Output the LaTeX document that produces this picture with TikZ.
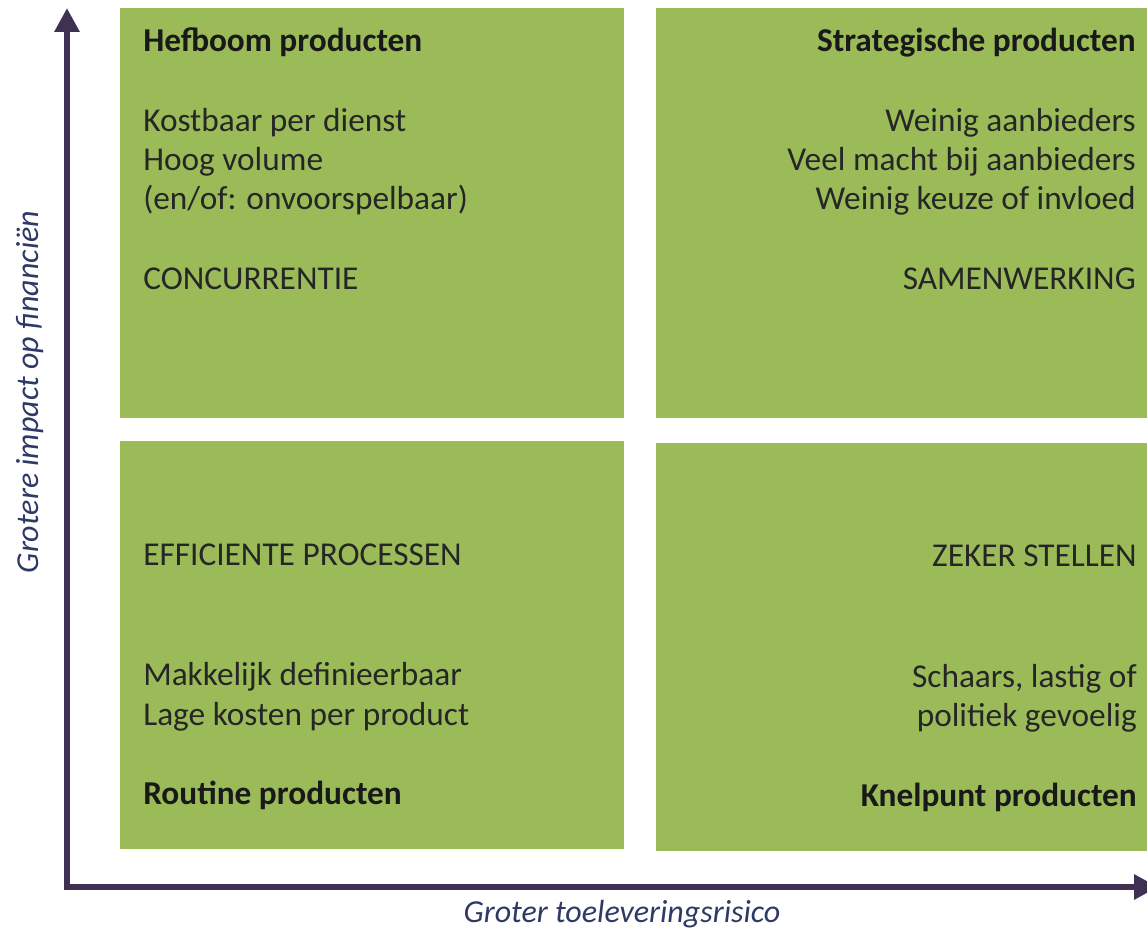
\documentclass[tikz,border=0pt]{standalone}
\usepackage{fontspec}
\setmainfont{Carlito}
\usetikzlibrary{arrows.meta}
\definecolor{boxgreen}{HTML}{9BBB59}
\definecolor{axispurple}{HTML}{403152}
\definecolor{labelblue}{HTML}{2E3A66}
\definecolor{txt}{HTML}{262626}
\begin{document}
\begin{tikzpicture}[x=0.75pt,y=-0.75pt,
  quad/.style={fill=boxgreen,draw=none},
  body/.style={inner sep=0pt,font=\fontsize{25}{30}\selectfont,text=txt},
  head/.style={inner sep=0pt,font=\fontsize{25}{30}\selectfont\bfseries,text=black!90},
  axisline/.style={line width=5pt,draw=axispurple,{Triangle[length=18pt,width=18pt]}-{Triangle[length=18pt,width=18pt]}},
  axlabel/.style={inner sep=0pt,font=\fontsize{24}{28}\selectfont\itshape,text=labelblue}]
\useasboundingbox (0,0) rectangle (1147,934);
% quadrants
\path[quad] (120,8) rectangle (624,418);
\path[quad] (656,8) rectangle (1147,418);
\path[quad] (120,441) rectangle (624,849);
\path[quad] (656,443) rectangle (1147,851);
% axes
\coordinate (ytop) at (67,8);
\coordinate (O) at (67,887);
\coordinate (xend) at (1158,887);
\draw[axisline] (ytop) -- (O) -- (xend);
% top-left
\node[head,anchor=base west] (tl1) at (143,52) {Hefboom producten};
\node[body,anchor=base west] (tl2) at (143,132) {Kostbaar per dienst};
\node[body,anchor=base west] (tl3) at (143,171) {Hoog volume};
\node[body,anchor=base west] (tl4) at (143,210) {(en/of: onvoorspelbaar)};
\node[body,anchor=base west] (tl5) at (143,290) {CONCURRENTIE};
% top-right
\node[head,anchor=base east] (tr1) at (1136,52) {Strategische producten};
\node[body,anchor=base east] (tr2) at (1136,132) {Weinig aanbieders};
\node[body,anchor=base east] (tr3) at (1136,171) {Veel macht bij aanbieders};
\node[body,anchor=base east] (tr4) at (1136,210) {Weinig keuze of invloed};
\node[body,anchor=base east] (tr5) at (1136,290) {SAMENWERKING};
% bottom-left
\node[body,anchor=base west] (bl1) at (143,565) {EFFICIENTE PROCESSEN};
\node[body,anchor=base west] (bl2) at (143,685) {Makkelijk definieerbaar};
\node[body,anchor=base west] (bl3) at (143,725) {Lage kosten per product};
\node[head,anchor=base west] (bl4) at (143,804) {Routine producten};
% bottom-right
\node[body,anchor=base east] (br1) at (1137,566) {ZEKER STELLEN};
\node[body,anchor=base east] (br2) at (1137,687) {Schaars, lastig of};
\node[body,anchor=base east] (br3) at (1137,726) {politiek gevoelig};
\node[head,anchor=base east] (br4) at (1137,806) {Knelpunt producten};
% axis labels
\node[axlabel,rotate=90,anchor=base] (ylab) at (38,392) {Grotere impact op financiën};
\node[axlabel,anchor=base] (xlab) at (622,922) {Groter toeleveringsrisico};
\end{tikzpicture}
\end{document}
